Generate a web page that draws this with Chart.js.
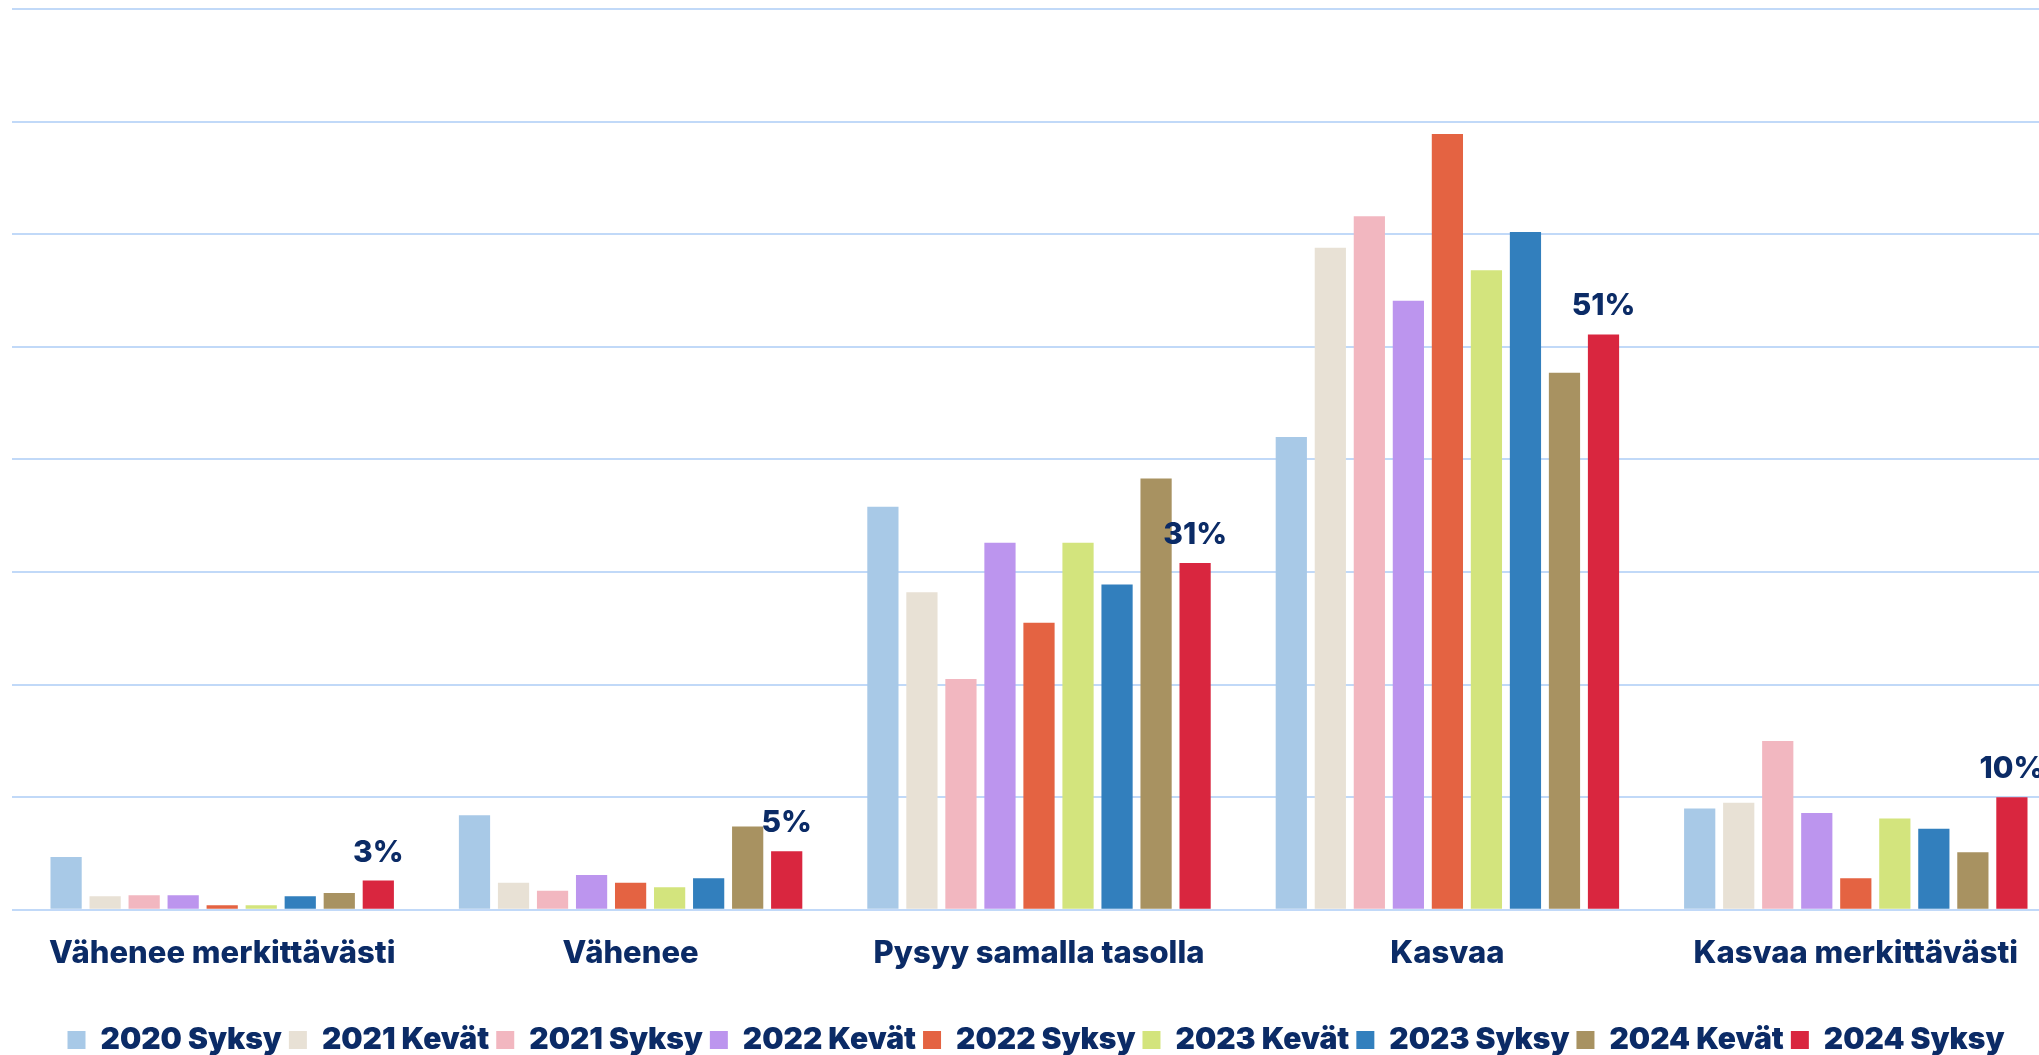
<!DOCTYPE html>
<html>
<head>
<meta charset="utf-8">
<script src="https://cdn.jsdelivr.net/npm/chart.js@4.4.1/dist/chart.umd.min.js"></script>
<style>
html,body{margin:0;padding:0;background:#ffffff;overflow:hidden;width:2039px;height:1055px;}
#wrap{position:absolute;left:0;top:0;width:2060px;height:1065px;}
</style>
</head>
<body>
<div id="wrap"><canvas id="chart"></canvas></div>
<script>
const categories = ['Vähenee merkittävästi', 'Vähenee', 'Pysyy samalla tasolla', 'Kasvaa', 'Kasvaa merkittävästi'];
const seriesNames = ['2020 Syksy', '2021 Kevät', '2021 Syksy', '2022 Kevät', '2022 Syksy', '2023 Kevät', '2023 Syksy', '2024 Kevät', '2024 Syksy'];
const s2020Syksy = [4.7, 8.4, 35.8, 42.0, 9.0];
const s2021Kevat = [1.2, 2.4, 28.2, 58.8, 9.5];
const s2021Syksy = [1.3, 1.7, 20.5, 61.6, 15.0];
const s2022Kevat = [1.3, 3.1, 32.6, 54.1, 8.6];
const s2022Syksy = [0.4, 2.4, 25.5, 68.9, 2.8];
const s2023Kevat = [0.4, 2.0, 32.6, 56.8, 8.1];
const s2023Syksy = [1.2, 2.8, 28.9, 60.2, 7.2];
const s2024Kevat = [1.5, 7.4, 38.3, 47.7, 5.1];
const s2024Syksy = [2.6, 5.2, 30.8, 51.1, 10.0];
const labeledSeries = '2024 Syksy';
const yTicks = [0, 10, 20, 30, 40, 50, 60, 70, 80];

const seriesValues = [s2020Syksy, s2021Kevat, s2021Syksy, s2022Kevat, s2022Syksy, s2023Kevat, s2023Syksy, s2024Kevat, s2024Syksy];
const colors = ['#a8c9e7', '#e8e1d5', '#f2b7c0', '#bc95ee', '#e46342', '#d3e47d', '#327fbd', '#a89261', '#d9263f'];
const navy = '#0b2b66';
const fontFamily = 'Inter, "Noto Sans", sans-serif';

const valueLabels = {
  id: 'valueLabels',
  afterDatasetsDraw(chart) {
    const ctx = chart.ctx;
    chart.data.datasets.forEach((ds, di) => {
      if (ds.label !== labeledSeries) return;
      const meta = chart.getDatasetMeta(di);
      meta.data.forEach((bar, i) => {
        ctx.save();
        ctx.font = '800 30px ' + fontFamily;
        ctx.fillStyle = navy;
        ctx.textAlign = 'center';
        ctx.textBaseline = 'alphabetic';
        ctx.fillText(Math.round(ds.data[i]) + '%', bar.x, bar.y - 19);
        ctx.restore();
      });
    });
  }
};

new Chart(document.getElementById('chart'), {
  type: 'bar',
  data: {
    labels: categories,
    datasets: seriesNames.map((name, i) => ({
      label: name,
      data: seriesValues[i],
      backgroundColor: colors[i],
      borderWidth: 0,
      categoryPercentage: 0.86,
      barPercentage: 0.8
    }))
  },
  options: {
    responsive: true,
    maintainAspectRatio: false,
    animation: false,
    devicePixelRatio: 1,
    layout: { padding: { top: 9, left: 12, right: 0, bottom: 0 } },
    plugins: {
      tooltip: { enabled: false },
      legend: {
        position: 'bottom',
        labels: {
          boxWidth: 18,
          boxHeight: 18,
          padding: 7,
          color: navy,
          font: { family: fontFamily, size: 30, weight: '900' }
        }
      }
    },
    scales: {
      x: {
        grid: { display: false, drawTicks: false },
        border: { display: false },
        ticks: {
          padding: 25,
          color: navy,
          maxRotation: 0,
          autoSkip: false,
          font: { family: fontFamily, size: 31, weight: '800' }
        },
        afterFit: (scale) => { scale.height += 21; }
      },
      y: {
        min: 0,
        max: 80,
        afterBuildTicks: (scale) => { scale.ticks = yTicks.map(v => ({ value: v })); },
        ticks: { display: false },
        border: { display: false },
        grid: { color: '#c1d9f8', lineWidth: 2, drawTicks: true, tickLength: 6 }
      }
    }
  },
  plugins: [valueLabels]
});
</script>
</body>
</html>
